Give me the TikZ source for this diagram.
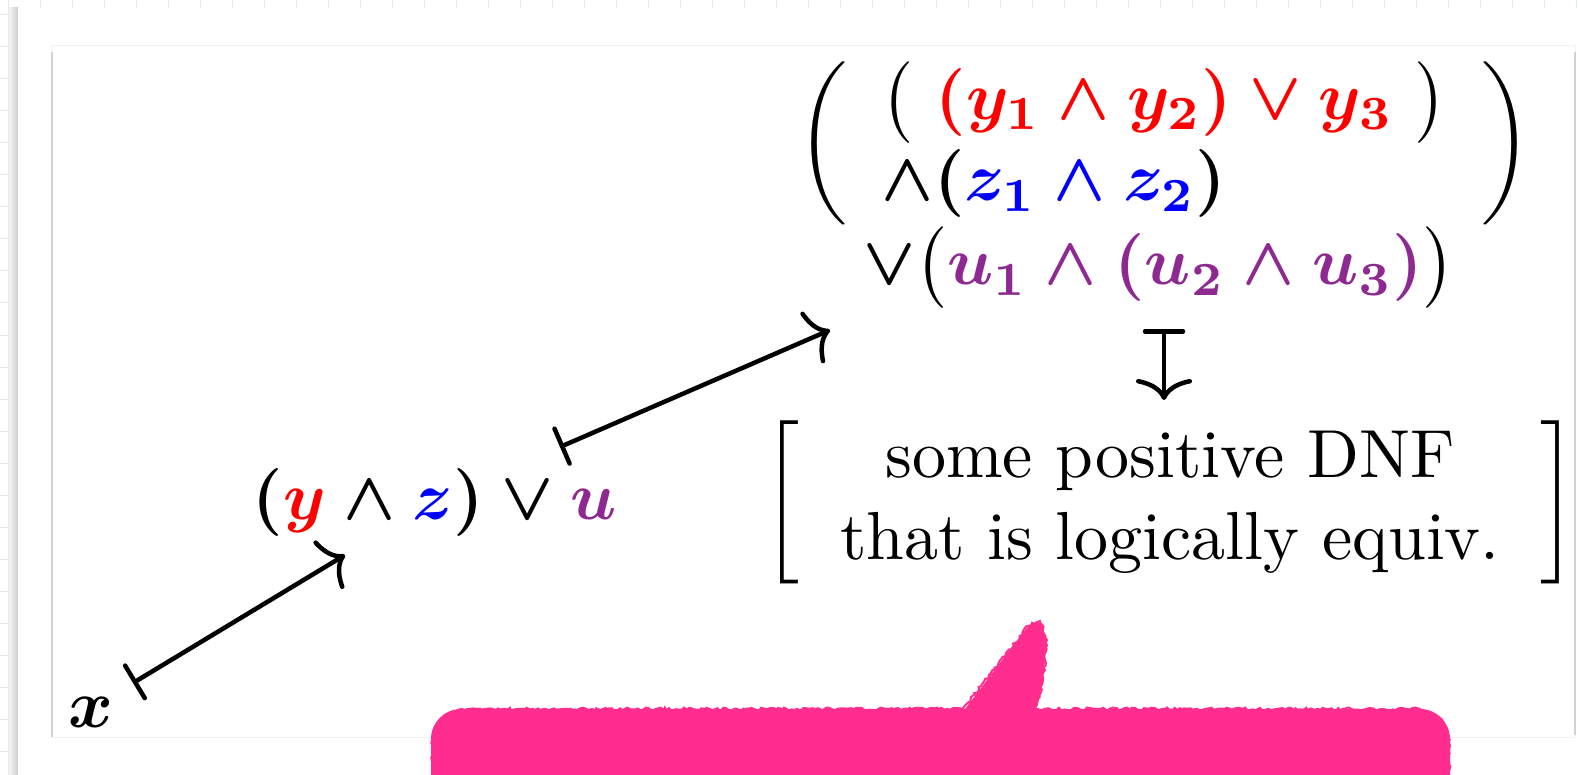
\documentclass[tikz,border=0pt]{standalone}
\usepackage{amsmath,graphicx}
\usetikzlibrary{arrows.meta,decorations.pathmorphing}
\definecolor{fred}{RGB}{255,0,0}
\definecolor{fblue}{RGB}{0,0,255}
\definecolor{fpurple}{RGB}{142,41,145}
\definecolor{bubblepink}{RGB}{255,46,142}
\definecolor{gridc}{RGB}{226,234,238}
\newcommand{\sx}[1]{\scalebox{6.8}{#1}}
\begin{document}
\begin{tikzpicture}[x=1pt,y=-1pt,
  mapsto/.style={line width=4.5pt, line cap=round,
    {Bar[width=38pt,round]}-{Computer Modern Rightarrow[length=21pt,width=56pt,round]}},
  txt/.style={inner sep=0pt, outer sep=0pt},
  rough/.style={bubblepink, line width=2pt, decorate,
    decoration={random steps,segment length=2.5pt,amplitude=1.5pt}}]
\useasboundingbox (0,0) rectangle (1578,775);
\clip (0,0) rectangle (1578,775);
% graph paper background
\fill[white] (0,0) rectangle (1578,775);
\foreach \i in {0,...,49} \draw[gridc, line width=1pt] (8+32*\i,0) -- (8+32*\i,775);
\foreach \j in {0,...,24} \draw[gridc, line width=1pt] (0,15+32*\j) -- (1578,15+32*\j);
% sheet with shadow
\shade[left color=gray!8, right color=gray!40] (9,8) rectangle (18,775);
\fill[white] (18,8) rectangle (1578,775);
% slide frame
\draw[gray!10, line width=1pt] (52,46) rectangle (1575,737);
\draw[gray!35, line width=1.5pt] (52,52) -- (52,737);
\draw[gray!35, line width=1.5pt] (1575,52) -- (1575,735);
% texts
\node[txt, anchor=base west] (x) at (68,727) {\sx{\boldmath$x$}};
\node[txt, anchor=base] (f1) at (435,519)
  {\sx{\boldmath$({\color{fred}y}\wedge{\color{fblue}z})\vee{\color{fpurple}u}$}};
\node[txt] (f2) at (1164.5,143.5)
  {\sx{\boldmath$\left(\begin{array}{l}
     \big(\ {\color{fred}(y_1\wedge y_2)\vee y_3}\ \big)\\
     \wedge({\color{fblue}z_1\wedge z_2})
   \end{array}\right)$}};
\node[txt, anchor=base] (f3) at (1159,285)
  {\sx{\boldmath$\vee\big({\color{fpurple}u_1\wedge(u_2\wedge u_3)}\big)$}};
\node[txt] (dnf) at (1170,502)
  {\sx{$\left[\begin{tabular}{c}some positive DNF\\ that is logically equiv.\end{tabular}\right]$}};
% connectors
\coordinate (a1s) at (133,683);
\coordinate (a1e) at (345,555);
\coordinate (a2s) at (560,447);
\coordinate (a2e) at (830,330);
\coordinate (a3s) at (1164,329);
\coordinate (a3e) at (1164,400);
\draw[mapsto] (a1s) -- (a1e);
\draw[mapsto] (a2s) -- (a2e);
\draw[mapsto] (a3s) -- (a3e);
% speech bubble
\fill[bubblepink, rounded corners=30pt] (431,709) rectangle (1450,830);
\fill[bubblepink, rounded corners=4pt] (962,713) -- (1028,626) -- (1040,621)
  -- (1047,640) -- (1043,680) -- (1035,713) -- cycle;
\draw[rough] (434,800) -- (432,740) -- (442,718) -- (462,709) -- (963,709)
  -- (1028,626) -- (1040,621) -- (1047,640) -- (1043,680) -- (1035,709)
  -- (1420,709) -- (1440,718) -- (1449,740) -- (1449,800);
\end{tikzpicture}
\end{document}
